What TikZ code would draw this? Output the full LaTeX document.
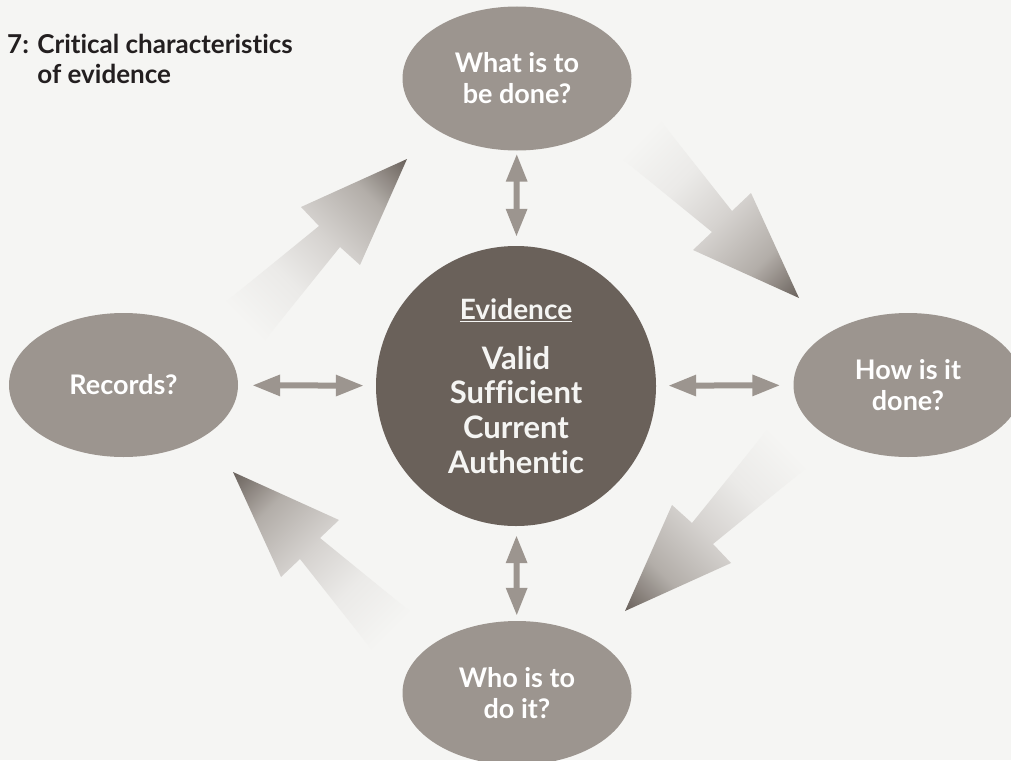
\documentclass[tikz,border=0pt]{standalone}
\usepackage{fontspec}
\setmainfont{Lato}[Ligatures=NoCommon]
\usepackage{tikz}
\usetikzlibrary{shapes.geometric}
\usetikzlibrary{arrows.meta}

\definecolor{paper}{HTML}{F5F5F3}
\definecolor{bubble}{HTML}{9C958F}
\definecolor{hubgray}{HTML}{6A615A}
\definecolor{ink}{HTML}{231F20}
\definecolor{fadeone}{HTML}{EBEAE8}
\definecolor{fadetwo}{HTML}{D6D3D0}
\definecolor{fadethree}{HTML}{B3AEA9}
\definecolor{tipgray}{HTML}{6C645E}

\pgfdeclarehorizontalshading{fadearrow}{100bp}{color(0bp)=(paper); color(22bp)=(paper); color(39bp)=(fadeone); color(54bp)=(fadetwo); color(71bp)=(fadethree); color(85bp)=(tipgray); color(100bp)=(tipgray)}

\begin{document}
\begin{tikzpicture}[x=1pt,y=-1pt,
    question/.style={ellipse,fill=bubble,minimum width=229pt,minimum height=144pt,inner sep=0pt,
      align=center,text=white,font=\fontsize{27}{31}\selectfont\bfseries},
    hub/.style={circle,fill=hubgray,minimum size=280pt,inner sep=0pt,align=center,
      text=paper,font=\fontsize{31}{34.7}\selectfont\bfseries},
    twoway/.style={draw=bubble,line width=6pt,
      {Triangle[width=20pt,length=28pt]}-{Triangle[width=20pt,length=28pt]}},
    bigarrow/.style={shading=fadearrow}]
                \useasboundingbox (0,0) rectangle (1011,760);
                \fill[paper] (0,0) rectangle (1011,760);
                \clip (0,0) rectangle (1011,760);

                \node[anchor=base west,align=left,inner sep=0pt,text=ink,
                  font=\fontsize{26}{30}\selectfont\bfseries] (title) at (7,83)
                  {7: Critical characteristics\\\phantom{7: }of evidence};

                \node[hub] (evid) at (516,386)
                  {{\fontsize{28}{30}\selectfont\underline{Evidence}}\\[15.3pt]Valid\\Sufficient\\Current\\Authentic};
                \node[question] (what) at (517,78.5) {What is to\\be done?};
                \node[question] (how) at (908,385) {How is it\\done?};
                \node[question] (who) at (517,693) {Who is to\\do it?};
                \node[question] (rec) at (123.5,385) {Records?};

                \draw[twoway,shorten <=3pt,shorten >=9pt] (what) -- (evid);
                \draw[twoway,shorten <=12pt,shorten >=13pt] (evid) -- (how);
                \draw[twoway,shorten <=9pt,shorten >=5pt] (evid) -- (who);
                \draw[twoway,shorten <=14pt,shorten >=12pt] (rec) -- (evid);

                \begin{scope}[shift={(516,385)}]
                \shade[bigarrow,shading angle=-45] (104,-228) -- (196,-153) -- (177,-135) -- (283,-87)
                  -- (235,-192) -- (216,-174) -- (144,-265) -- cycle;
                \shade[bigarrow,shading angle=-135] (294,80) -- (197,159) -- (215,178) -- (109,226)
                  -- (156,120) -- (176,138) -- (251,45) -- cycle;
                \shade[bigarrow,shading angle=135] (-104,228) -- (-196,153) -- (-177,135) -- (-283,87)
                  -- (-235,192) -- (-216,174) -- (-144,265) -- cycle;
                \shade[bigarrow,shading angle=45] (-294,-80) -- (-197,-159) -- (-215,-178) -- (-109,-226)
                  -- (-156,-120) -- (-176,-138) -- (-251,-45) -- cycle;
                \end{scope}
            \end{tikzpicture}
\end{document}
